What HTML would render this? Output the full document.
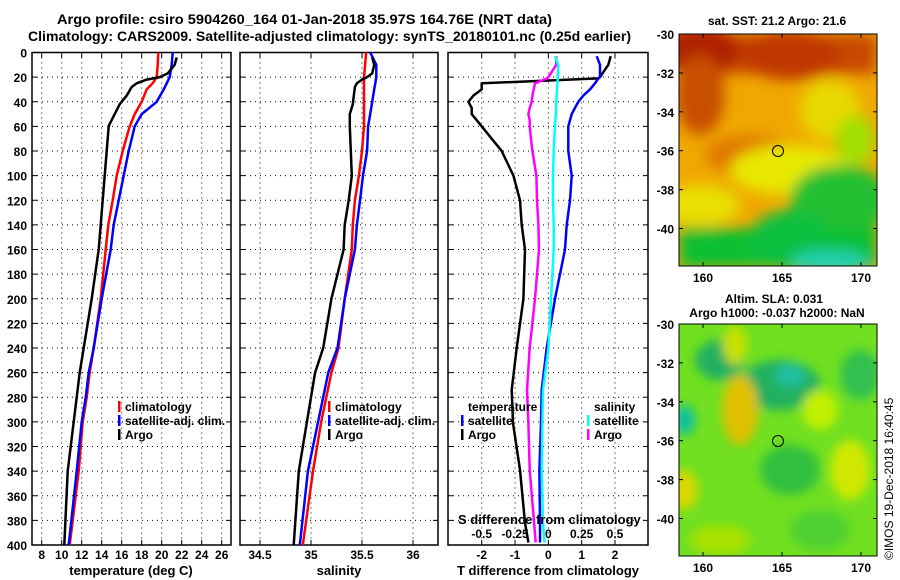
<!DOCTYPE html>
<html><head><meta charset="utf-8"><style>
html,body{margin:0;padding:0;background:#fff;}
svg{display:block;font-family:"Liberation Sans",Arial,sans-serif;font-weight:bold;}
</style></head><body>
<svg id="fig" width="900" height="580" viewBox="0 0 900 580" xmlns="http://www.w3.org/2000/svg">
<defs>
<filter id="blr" x="-50%" y="-50%" width="200%" height="200%"><feGaussianBlur stdDeviation="7"/></filter>
<filter id="blr2" x="-50%" y="-50%" width="200%" height="200%"><feGaussianBlur stdDeviation="5"/></filter>
<clipPath id="clipTop"><rect x="679" y="34" width="198" height="232"/></clipPath>
<clipPath id="clipBot"><rect x="679" y="324" width="198" height="232"/></clipPath>
</defs>
<text x="57" y="24" font-size="14" textLength="495" lengthAdjust="spacingAndGlyphs">Argo profile: csiro 5904260_164 01-Jan-2018 35.97S 164.76E (NRT data)</text>
<text x="28" y="41" font-size="14" textLength="603" lengthAdjust="spacingAndGlyphs">Climatology: CARS2009. Satellite-adjusted climatology: synTS_20180101.nc (0.25d earlier)</text>

<g clip-path="url(#clipTop)">
<rect x="679" y="34" width="198" height="232" fill="#f0a800"/>
<g filter="url(#blr)">
<rect x="679" y="34" width="198" height="40" fill="#c84800"/>
<ellipse cx="700" cy="50" rx="40" ry="25" fill="#b02000"/>
<ellipse cx="790" cy="55" rx="50" ry="25" fill="#c03800"/>
<ellipse cx="700" cy="95" rx="25" ry="40" fill="#c85000"/>
<ellipse cx="750" cy="155" rx="45" ry="20" fill="#e07800"/>
<ellipse cx="830" cy="110" rx="30" ry="30" fill="#e8d800"/>
<ellipse cx="790" cy="170" rx="60" ry="25" fill="#e8e800"/>
<ellipse cx="700" cy="205" rx="40" ry="20" fill="#e8e000"/>
<ellipse cx="840" cy="200" rx="50" ry="35" fill="#20c030"/>
<ellipse cx="855" cy="140" rx="20" ry="25" fill="#a0e000"/>
<rect x="679" y="228" width="198" height="40" fill="#10c030"/>
<ellipse cx="790" cy="240" rx="40" ry="30" fill="#10c040"/>
<ellipse cx="830" cy="262" rx="40" ry="12" fill="#20d0b0"/>
</g>
<circle cx="778" cy="151" r="5.5" fill="none" stroke="#000" stroke-width="1"/>
</g>
<rect x="679" y="34" width="198" height="232" fill="none" stroke="#000" stroke-width="1"/>
<text x="777" y="25" font-size="12" text-anchor="middle">sat. SST: 21.2 Argo: 21.6</text>

<g clip-path="url(#clipBot)">
<rect x="679" y="324" width="198" height="232" fill="#70e020"/>
<g filter="url(#blr2)">
<ellipse cx="720" cy="360" rx="25" ry="20" fill="#20b060"/>
<ellipse cx="780" cy="385" rx="40" ry="25" fill="#20b060"/>
<ellipse cx="790" cy="375" rx="15" ry="12" fill="#20c0a0"/>
<ellipse cx="740" cy="410" rx="18" ry="35" fill="#e0c000"/>
<ellipse cx="735" cy="345" rx="12" ry="20" fill="#c8e000"/>
<ellipse cx="685" cy="420" rx="10" ry="15" fill="#10c0a0"/>
<ellipse cx="683" cy="490" rx="15" ry="20" fill="#d8d800"/>
<ellipse cx="820" cy="410" rx="18" ry="20" fill="#c0f000"/>
<ellipse cx="850" cy="470" rx="20" ry="30" fill="#d0e800"/>
<ellipse cx="860" cy="375" rx="20" ry="25" fill="#30c050"/>
<ellipse cx="790" cy="470" rx="30" ry="25" fill="#30c040"/>
<ellipse cx="720" cy="540" rx="30" ry="15" fill="#a8e000"/>
<ellipse cx="820" cy="530" rx="30" ry="20" fill="#50d030"/>
</g>
<circle cx="778" cy="441" r="5.5" fill="none" stroke="#000" stroke-width="1"/>
</g>
<rect x="679" y="324" width="198" height="232" fill="none" stroke="#000" stroke-width="1"/>
<text x="774" y="303" font-size="12" text-anchor="middle">Altim. SLA: 0.031</text>
<text x="777" y="317" font-size="12" text-anchor="middle">Argo h1000: -0.037 h2000: NaN</text>
<text x="0" y="0" font-size="12" font-weight="normal" transform="translate(893,560) rotate(-90)">©IMOS 19-Dec-2018 16:40:45</text>
<g id="plots"></g>
</svg>
<script>
// ---- data ----
var depthClim = [0,10,20,25,30,40,50,60,80,100,120,140,160,200,240,260,280,300,340,400];
var climT = [19.66,19.6,19.5,19.1,18.5,18.0,17.3,16.8,16.1,15.5,15.1,14.66,14.4,13.9,13.2,12.8,12.5,12.1,11.7,10.8];
var satT  = [21.1,21.0,20.8,20.5,20.2,19.5,18.0,17.3,16.7,16.2,15.7,15.2,14.9,14.0,13.2,12.7,12.4,12.0,11.5,10.7];
var climS = [35.54,35.53,35.52,35.52,35.52,35.52,35.52,35.52,35.50,35.47,35.43,35.41,35.40,35.33,35.27,35.20,35.15,35.10,35.02,34.92];
var satS  = [35.58,35.64,35.64,35.63,35.62,35.60,35.58,35.56,35.55,35.51,35.48,35.45,35.43,35.33,35.26,35.17,35.12,35.07,34.97,34.89];
var depthArgo = [4,10,17,20,22,25,28,35,42,50,58,60,80,100,120,140,160,200,240,260,300,340,400];
var argoT = [21.5,21.3,20.6,19.8,18.5,17.5,17.0,16.5,15.8,15.3,14.8,14.7,14.5,14.3,14.1,13.9,13.7,13.0,12.2,11.8,11.2,10.6,10.26];
var argoS = [35.6,35.62,35.6,35.55,35.5,35.45,35.43,35.42,35.41,35.38,35.38,35.38,35.39,35.40,35.37,35.33,35.32,35.20,35.12,35.04,34.96,34.88,34.83];
var depthDiff = [3,10,20,21,25,30,35,40,45,50,55,60,70,80,100,120,140,160,200,240,274,301,339,382,398];
var argoDT = [1.87,1.8,1.55,1.5,-2.0,-2.0,-2.25,-2.4,-2.3,-2.3,-2.15,-2.0,-1.7,-1.4,-1.05,-0.85,-0.8,-0.7,-0.75,-0.95,-1.1,-1.06,-0.85,-0.7,-0.6];
var satDT = [1.45,1.55,1.55,1.5,1.4,1.25,1.05,0.9,0.8,0.7,0.65,0.6,0.6,0.6,0.7,0.65,0.55,0.5,0.2,-0.05,-0.2,-0.22,-0.27,-0.25,-0.25];
var argoDS = [0.06,0.06,0.0,-0.01,-0.1,-0.11,-0.12,-0.125,-0.14,-0.15,-0.14,-0.14,-0.13,-0.12,-0.09,-0.085,-0.075,-0.07,-0.1,-0.14,-0.16,-0.15,-0.14,-0.107,-0.095];
var satDS = [0.05,0.075,0.07,0.07,0.068,0.065,0.062,0.06,0.058,0.056,0.053,0.05,0.045,0.04,0.035,0.035,0.04,0.04,0.02,0.0,-0.04,-0.045,-0.05,-0.04,-0.03];
var depthTicks = [0,20,40,60,80,100,120,140,160,180,200,220,240,260,280,300,320,340,360,380,400];
var tempTicks = [8,10,12,14,16,18,20,22,24,26];
var salTicks = [34.5,35,35.5,36];
var salTickLabels = ["34.5","35","35.5","36"];
var dtTicks = [-2,-1,0,1,2];
var dsTicks = [-0.5,-0.25,0,0.25,0.5];
var dsTickLabels = ["-0.5","-0.25","0","0.25","0.5"];
var latTicks = [-30,-32,-34,-36,-38,-40];
var lonTicks = [160,165,170];

var NS = "http://www.w3.org/2000/svg";
var root = document.getElementById('plots');
function mk(tag, attrs, parent){var e=document.createElementNS(NS,tag);for(var k in attrs)e.setAttribute(k,attrs[k]);(parent||root).appendChild(e);return e;}
var Y0=52.5, Y1=545;
function yD(d){return Y0+(Y1-Y0)*d/400;}
function lin(d0,d1,r0,r1){return function(v){return r0+(v-d0)*(r1-r0)/(d1-d0);};}
var xT = lin(8,26,41.7,221.7);
var xS = lin(34.5,36,260,413);
var xDT = lin(-2,2,481.7,615);
var xDS = lin(-0.5,0.5,481.7,615);
var panels = [{x0:32,x1:231,name:'temperature-panel'},{x0:240,x1:438,name:'salinity-panel'},{x0:448,x1:648,name:'difference-panel'}];

function grid(p, xs){
  var g=mk('g',{});
  
  
  depthTicks.forEach(function(d){
    var y=yD(d);
    mk('line',{x1:p.x0,x2:p.x1,y1:y,y2:y,stroke:'#000','stroke-width':1,'stroke-dasharray':'1,4'},g);
    mk('line',{x1:p.x0,x2:p.x0+5,y1:y,y2:y,stroke:'#000'},g);
    mk('line',{x1:p.x1-5,x2:p.x1,y1:y,y2:y,stroke:'#000'},g);
  });
  xs.forEach(function(x){
    mk('line',{x1:x,x2:x,y1:Y0,y2:Y1,stroke:'#000','stroke-width':1,'stroke-dasharray':'1,4'},g);
    mk('line',{x1:x,x2:x,y1:Y0,y2:Y0+5,stroke:'#000'},g);
    mk('line',{x1:x,x2:x,y1:Y1-5,y2:Y1,stroke:'#000'},g);
  });
  var r=mk('rect',{x:p.x0,y:Y0,width:p.x1-p.x0,height:Y1-Y0,fill:'none',stroke:'#000','stroke-width':1.5});
  
  
}
grid(panels[0], tempTicks.map(xT));
grid(panels[1], salTicks.map(xS));
grid(panels[2], dtTicks.map(xDT));

function line(ds, vs, xf, color, name){
  var pts=ds.map(function(d,i){return xf(vs[i]).toFixed(1)+','+yD(d).toFixed(1);}).join(' ');
  var pl=mk('polyline',{points:pts,fill:'none',stroke:color,'stroke-width':2.5,'stroke-linejoin':'round'});
  
  
}
line(depthClim, climT, xT, '#ff0000', 'climatology-temperature-line');
line(depthClim, satT, xT, '#0000ff', 'satellite-temperature-line');
line(depthArgo, argoT, xT, '#000000', 'argo-temperature-line');
line(depthClim, climS, xS, '#ff0000', 'climatology-salinity-line');
line(depthClim, satS, xS, '#0000ff', 'satellite-salinity-line');
line(depthArgo, argoS, xS, '#000000', 'argo-salinity-line');
line(depthDiff, argoDT, xDT, '#000000', 'argo-t-difference-line');
line(depthDiff, satDT, xDT, '#0000ff', 'satellite-t-difference-line');
line(depthDiff, argoDS, xDS, '#ff00ff', 'argo-s-difference-line');
line(depthDiff, satDS, xDS, '#00ffff', 'satellite-s-difference-line');

function txt(x,y,s,anchor,name,size){
  var t=mk('text',{x:x,y:y,'font-size':size||12,'text-anchor':anchor||'start'});
  t.textContent=s;
  
  
  return t;
}
depthTicks.forEach(function(d){ txt(27, yD(d)+5, String(d), 'end', 'depth-tick-label'); });
tempTicks.forEach(function(v){ txt(xT(v), 559, String(v), 'middle', 'temperature-tick-label'); });
salTicks.forEach(function(v,i){ txt(xS(v), 559, salTickLabels[i], 'middle', 'salinity-tick-label'); });
dtTicks.forEach(function(v){ txt(xDT(v), 559, String(v), 'middle', 't-difference-tick-label'); });
dsTicks.forEach(function(v,i){ txt(xDS(v), 538, dsTickLabels[i], 'middle', 's-difference-tick-label'); });
txt(131, 575, 'temperature (deg C)', 'middle', 'temperature-axis-title', 13);
txt(339, 575, 'salinity', 'middle', 'salinity-axis-title', 13);
txt(548, 575, 'T difference from climatology', 'middle', 't-difference-axis-title', 13);
txt(458, 524, 'S difference from climatology', 'start', 's-difference-axis-title', 13);

function legend(x, y, color, label, name){
  var b=mk('rect',{x:x,y:y-10,width:2.5,height:11,fill:color});
  
  
  txt(x+7, y, label, 'start', name, 12);
}
legend(118,411,'#ff0000','climatology','legend-climatology');
legend(118,425,'#0000ff','satellite-adj. clim.','legend-satellite');
legend(118,439,'#000000','Argo','legend-argo');
legend(328,411,'#ff0000','climatology','legend-climatology-sal');
legend(328,425,'#0000ff','satellite-adj. clim.','legend-satellite-sal');
legend(328,439,'#000000','Argo','legend-argo-sal');
txt(468, 411, 'temperature', 'start', 'legend-temperature-heading', 12);
legend(461,425,'#0000ff','satellite','legend-t-satellite');
legend(461,439,'#000000','Argo','legend-t-argo');
txt(594, 411, 'salinity', 'start', 'legend-salinity-heading', 12);
legend(587,425,'#00ffff','satellite','legend-s-satellite');
legend(587,439,'#ff00ff','Argo','legend-s-argo');

var xLon = lin(160,170,703,861);
function latY(off){return function(l){return 34+off+(-30-l)*19.45;};}
[0,290].forEach(function(off){
  var yl=latY(off);
  latTicks.forEach(function(l){
    var y=yl(l);
    txt(674, y+5, String(l), 'end', 'latitude-tick-label');
    mk('line',{x1:877,x2:873,y1:y,y2:y,stroke:'#000'});
    mk('line',{x1:679,x2:683,y1:y,y2:y,stroke:'#000'});
  });
  lonTicks.forEach(function(l){
    var x=xLon(l);
    txt(x, 266+off+16, String(l), 'middle', 'longitude-tick-label');
    mk('line',{x1:x,x2:x,y1:34+off,y2:38+off,stroke:'#000'});
    mk('line',{x1:x,x2:x,y1:266+off,y2:262+off,stroke:'#000'});
  });
});
</script>
</body></html>
